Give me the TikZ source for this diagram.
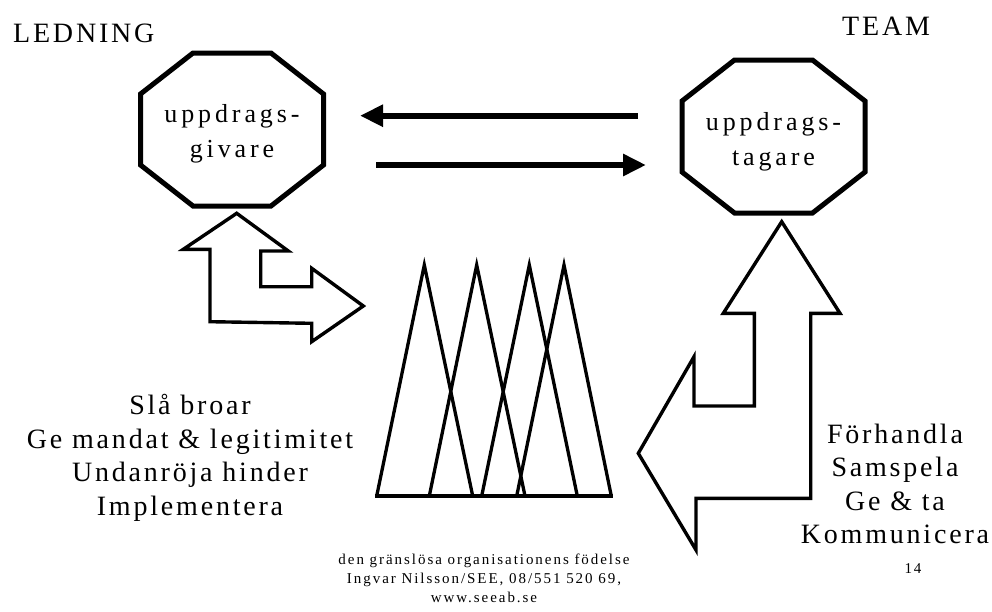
\documentclass[tikz,border=0pt]{standalone}
\usepackage{fontspec}
\setmainfont{Liberation Serif}
\newfontfamily\spaced{Liberation Serif}[LetterSpace=10]
\newfontfamily\spacedocta{Liberation Serif}[LetterSpace=15]
\newfontfamily\spacedsmall{Liberation Serif}[LetterSpace=13]
\usetikzlibrary{arrows.meta}

\tikzset{
  octline/.style={line width=5pt, line join=miter},
  bigarrow/.style={line width=3.4pt, line join=miter},
  spike/.style={line width=3.3pt, line join=miter},
  flow/.style={line width=6pt, -{Triangle[length=23pt,width=21pt]}},
  lbl/.style={font=\spaced\fontsize{28}{33.5}\selectfont, inner sep=0pt, align=center},
  octtext/.style={font=\spacedocta\fontsize{26}{35}\selectfont, inner sep=0pt, align=center},
  foot/.style={font=\spacedsmall\fontsize{15}{18.5}\selectfont, inner sep=0pt, align=center},
  octa/.pic={
    \draw[octline] (-91.5,-35.5) -- (-91.5,35.5) -- (-39,76.5) -- (39,76.5)
      -- (91.5,35.5) -- (91.5,-35.5) -- (39,-76.5) -- (-39,-76.5) -- cycle;
  }
}

\begin{document}
\begin{tikzpicture}[x=1pt, y=-1pt]
\useasboundingbox (0,0) rectangle (992,611);

% headings
\node[lbl, anchor=base west] (ledning) at (13,42) {LEDNING};
\node[lbl, anchor=base west] (team) at (842,35) {TEAM};

% the two parties
\pic at (232,129.5) {octa};
\node[octtext] (givare) at (232,134) {uppdrags-\\givare};
\pic at (773.5,136.5) {octa};
\node[octtext] (tagare) at (773.5,142) {uppdrags-\\tagare};

% exchange between them
\coordinate (backS) at (638,115.7);
\coordinate (backE) at (360,115.7);
\coordinate (forthS) at (376,165);
\coordinate (forthE) at (646,165);
\draw[flow] (backS) -- (backE);
\draw[flow] (forthS) -- (forthE);

% left bent double arrow
\draw[bigarrow] (236.7,213.3) -- (288.3,251) -- (260.7,251) -- (260.7,286.7)
  -- (311.7,286.7) -- (311.7,268.3) -- (363.3,306) -- (311.7,341.7)
  -- (311.7,323.3) -- (210,321.7) -- (210,249.3) -- (183.3,249.3) -- cycle;

% right bent double arrow
\draw[bigarrow] (781.7,221.7) -- (840,313.3) -- (810.7,313.3) -- (810.7,498.3)
  -- (696,498.3) -- (696,550) -- (638.3,453.3) -- (694,356.7) -- (694,406)
  -- (754.3,406) -- (754.3,313.3) -- (723.3,313.3) -- cycle;

% overlapping spikes
\draw[spike] (376.7,496) -- (424.3,265) -- (472.7,496);
\draw[spike] (429.3,496) -- (476.7,265) -- (525,496);
\draw[spike] (481.7,496) -- (529.3,265) -- (577.3,496);
\draw[spike] (516.7,496) -- (564,265) -- (611.3,496);
\draw[spike, line cap=rect] (376.7,496) -- (611.3,496);

% activity lists
\node[lbl] (lead) at (190,458) {Slå broar\\Ge mandat \& legitimitet\\Undanröja hinder\\Implementera};
\node[lbl] (teamwork) at (895,484) {Förhandla\\Samspela\\Ge \& ta\\Kommunicera};

% footer
\node[foot, anchor=base] (foot1) at (484,564) {den gränslösa organisationens födelse};
\node[foot, anchor=base] (foot2) at (484,583) {Ingvar Nilsson/SEE, 08/551 520 69,};
\node[foot, anchor=base] (foot3) at (484,602) {www.seeab.se};
\node[foot, anchor=base] (page) at (913,573) {14};
\end{tikzpicture}
\end{document}
